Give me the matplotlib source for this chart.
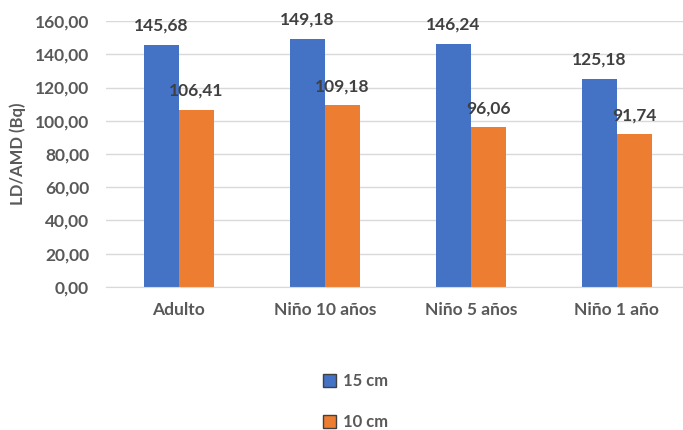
import matplotlib.pyplot as plt
import numpy as np

categories = ['Adulto', 'Niño 10 años', 'Niño 5 años', 'Niño 1 año']
vals_15cm = [145.68, 149.18, 146.24, 125.18]
vals_10cm = [106.41, 109.18, 96.06, 91.74]
yticks = [0, 20, 40, 60, 80, 100, 120, 140, 160]

plt.rcParams['font.family'] = ['Lato', 'DejaVu Sans']

fig = plt.figure(figsize=(6.83, 4.30), dpi=100)
ax = fig.add_axes([0.155, 0.333, 0.855, 0.618])

x = np.arange(len(categories))
w = 0.24
b1 = ax.bar(x - w / 2, vals_15cm, w, color='#4472C4', label='15 cm')
b2 = ax.bar(x + w / 2, vals_10cm, w, color='#ED7D31', label='10 cm')

def fmt(v):
    return f'{v:.2f}'.replace('.', ',')

# etiquetas de valor encima de cada barra
for bars in (b1, b2):
    for r in bars:
        ax.annotate(fmt(r.get_height()), (r.get_x() + r.get_width() / 2, r.get_height()),
                    xytext=(0, 8), textcoords='offset points', ha='center', va='bottom',
                    fontsize=12.5, fontweight='bold', color='#404040')

ax.set_xlim(-0.5, len(categories) - 0.5)
ax.set_ylim(0, 160)
ax.set_yticks(yticks)
ax.set_yticklabels([fmt(t) for t in yticks])
ax.set_xticks(x)
ax.set_xticklabels(categories)
ax.tick_params(axis='both', length=0, labelsize=12.5, labelcolor='#595959')
ax.tick_params(axis='x', pad=11)
ax.tick_params(axis='y', pad=12)
for lbl in ax.get_xticklabels() + ax.get_yticklabels():
    lbl.set_fontweight('bold')

ax.yaxis.grid(True, color='#D9D9D9', linewidth=1)
ax.set_axisbelow(True)
for s in ['top', 'right', 'left']:
    ax.spines[s].set_visible(False)
ax.spines['bottom'].set_color('#D9D9D9')

ax.set_ylabel('LD/AMD (Bq)', fontsize=12, fontweight='bold', color='#595959', labelpad=6)

handles = [plt.Rectangle((0, 0), 1, 1, facecolor='#4472C4', edgecolor='#404040', linewidth=1),
           plt.Rectangle((0, 0), 1, 1, facecolor='#ED7D31', edgecolor='#404040', linewidth=1)]
fig.legend(handles, ['15 cm', '10 cm'], loc='center', bbox_to_anchor=(0.52, 0.066),
           ncol=1, frameon=False, labelcolor='#595959',
           handlelength=0.8, handleheight=0.8, handletextpad=0.4, labelspacing=1.5,
           prop={'weight': 'bold', 'size': 12})

fig.savefig('out.png', dpi=100)
